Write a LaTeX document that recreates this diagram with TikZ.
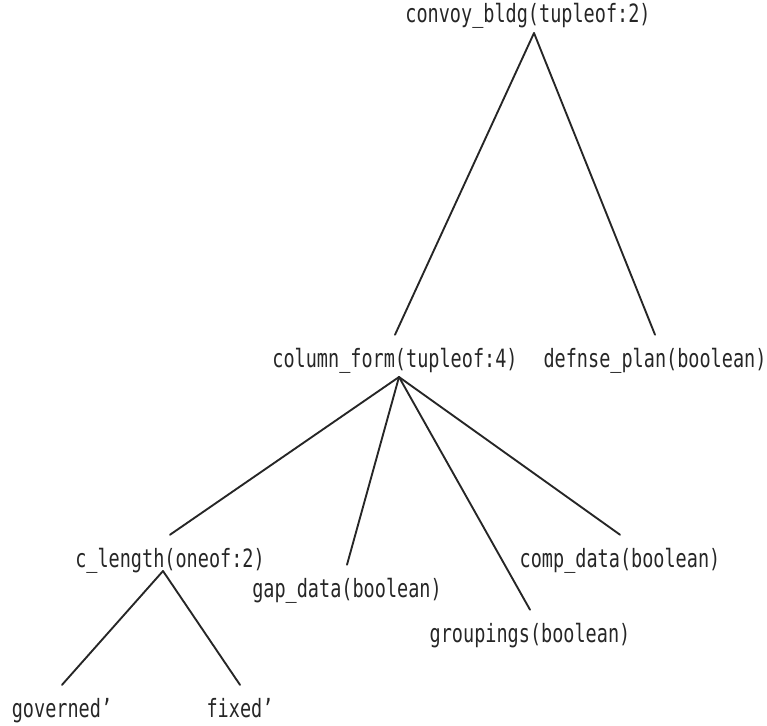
\documentclass[tikz,border=0pt]{standalone}
\usepackage{fontspec}
\setmonofont{DejaVu Sans Mono}[FakeStretch=0.735]
\newcommand{\unitsize}{0.03cm}

\begin{document}
\begin{tikzpicture}
\useasboundingbox (0,0) rectangle (767*\unitsize,-725*\unitsize);
\tikzstyle{every node}=[anchor=base,
			inner sep=0pt,
			outer ysep=13*\unitsize,
			text=black!85,
			font=\ttfamily\fontsize{21.5}{25}\selectfont
			]
\tikzstyle{branch}=[draw=black!85, line width=1.6pt, line cap=round]


\node (convoy) at (528*\unitsize,-22*\unitsize) {convoy\_bldg(tupleof:2)};
    

\node (column) at (395*\unitsize,-367*\unitsize) {column\_form(tupleof:4)};
    

\node (defnse) at (655*\unitsize,-367*\unitsize) {defnse\_plan(boolean)};
    

\node (clength) at (170*\unitsize,-567*\unitsize) {c\_length(oneof:2)};
    

\node (gapdata) at (347*\unitsize,-597*\unitsize) {gap\_data(boolean)};
    

\node (compdata) at (620*\unitsize,-567*\unitsize) {comp\_data(boolean)};
    

\node (groupings) at (530*\unitsize,-642*\unitsize) {groupings(boolean)};
    

\node (governed) at (62*\unitsize,-717*\unitsize) {governed’};
    

\node (fixed) at (240*\unitsize,-717*\unitsize) {fixed’};
    

\coordinate (convoy-fork) at (534*\unitsize,-33*\unitsize);

\coordinate (column-fork) at (399*\unitsize,-377*\unitsize);

\coordinate (clength-fork) at (163*\unitsize,-571*\unitsize);


\draw[branch] (convoy-fork) -- (column.north);
    

\draw[branch] (convoy-fork) -- (defnse.north);
    

\draw[branch] (column-fork) -- (clength.north);
    

\draw[branch] (column-fork) -- (gapdata.north);
    

\draw[branch] (column-fork) -- (groupings.north);
    

\draw[branch] (column-fork) -- (compdata.north);
    

\draw[branch] (clength-fork) -- (governed.north);
    

\draw[branch] (clength-fork) -- (fixed.north);
    

\end{tikzpicture}
\end{document}
